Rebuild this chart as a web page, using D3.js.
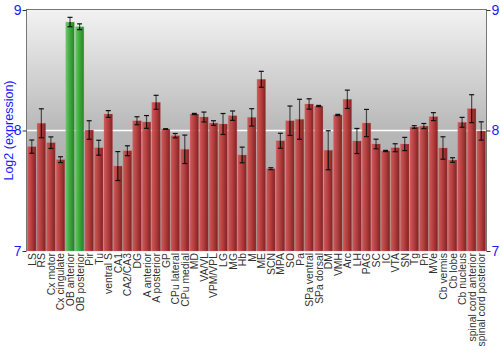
<!DOCTYPE html>
<html><head><meta charset="utf-8">
<script src="https://cdn.jsdelivr.net/npm/d3@7"></script>
<style>body{margin:0;background:#fff}svg{display:block}</style>
</head><body>
<svg id="chart" width="500" height="350"></svg>
<script>
const categories = ["LS","RS","Cx motor","Cx cingulate","OB anterior","OB posterior","Pir","Tu","ventral S","CA1","CA2/CA3","DG","A anterior","A posterior","GP","CPu lateral","CPu medial","MD","VA/VL","VPM/VPL","LG","MG","Hb","M","ME","SCN","MPA","SO","Pa","SPa ventral","SPa dorsal","DM","VMH","Arc","LH","PAG","SC","IC","VTA","SN","Tg","Pn","MVe","Cb vermis","Cb lobe","Cb nucleus","spinal cord anterior","spinal cord posterior"];
const values = [7.866,8.06,7.899,7.758,8.900,8.861,8.004,7.857,8.137,7.705,7.832,8.081,8.071,8.234,8.012,7.957,7.844,8.137,8.112,8.062,8.054,8.123,7.797,8.109,8.425,7.683,7.915,8.081,8.093,8.22,8.203,7.836,8.129,8.259,7.913,8.062,7.888,7.830,7.857,7.888,8.029,8.037,8.115,7.855,7.755,8.068,8.181,7.996];
const errors = [0.055,0.12,0.048,0.024,0.039,0.024,0.077,0.062,0.028,0.12,0.041,0.033,0.053,0.058,0.003,0.018,0.118,0.005,0.041,0.019,0.087,0.039,0.065,0.072,0.066,0.008,0.062,0.122,0.166,0.043,0.005,0.162,0.005,0.076,0.104,0.113,0.04,0.005,0.033,0.055,0.011,0.021,0.033,0.093,0.019,0.041,0.116,0.076];
const highlighted = ["OB anterior","OB posterior"];
const yTicks = [7,8,9];

const svg = d3.select("#chart");
const L = 27, R = 486, T = 10, B = 251;
const x = d3.scaleBand().domain(categories).range([L, R]).paddingInner(0.1).paddingOuter(0.05);
const y = d3.scaleLinear().domain([7, 9]).range([B, T]);

const defs = svg.append("defs");
const bg = defs.append("linearGradient").attr("id","bg").attr("x1",0).attr("y1",0).attr("x2",0).attr("y2",1);
bg.append("stop").attr("offset","0%").attr("stop-color","#f2f2f2");
bg.append("stop").attr("offset","50%").attr("stop-color","#b8b8b8");
bg.append("stop").attr("offset","100%").attr("stop-color","#9a9a9a");
const red = defs.append("linearGradient").attr("id","red").attr("x1",0).attr("y1",0).attr("x2",1).attr("y2",0);
red.append("stop").attr("offset","0%").attr("stop-color","#cf5555");
red.append("stop").attr("offset","45%").attr("stop-color","#b63a3a");
red.append("stop").attr("offset","100%").attr("stop-color","#7e1a1a");
const green = defs.append("linearGradient").attr("id","green").attr("x1",0).attr("y1",0).attr("x2",1).attr("y2",0);
green.append("stop").attr("offset","0%").attr("stop-color","#66c866");
green.append("stop").attr("offset","45%").attr("stop-color","#3aa83a");
green.append("stop").attr("offset","100%").attr("stop-color","#1e7e1e");

svg.append("rect").attr("x",L).attr("y",T).attr("width",R-L).attr("height",B-T).attr("fill","url(#bg)");

svg.append("line").attr("x1",L).attr("x2",R).attr("y1",y(8)).attr("y2",y(8)).attr("stroke","#ffffff").attr("stroke-width",1.5);

const eb = svg.append("g");
categories.forEach((c,i)=>{
  const cx = x(c) + x.bandwidth()/2;
  const y1 = y(values[i]+errors[i]), y2 = y(values[i]-errors[i]);
  eb.append("line").attr("x1",cx).attr("x2",cx).attr("y1",y1).attr("y2",y2).attr("stroke","#222").attr("stroke-width",1.2).attr("opacity",0.75);
});

svg.append("g").selectAll("rect").data(categories).join("rect")
  .attr("x", d=>x(d)).attr("width", x.bandwidth())
  .attr("y", (d,i)=>y(values[i])).attr("height",(d,i)=>B - y(values[i]))
  .attr("fill", d=> highlighted.includes(d) ? "url(#green)" : "url(#red)")
  .attr("fill-opacity",0.95)
  .attr("stroke", d=> highlighted.includes(d) ? "#7fd07f" : "#d67070").attr("stroke-opacity",0.35).attr("stroke-width",0.8);

const ef = svg.append("g");
categories.forEach((c,i)=>{
  const cx = x(c) + x.bandwidth()/2;
  const y1 = y(values[i]+errors[i]), y2 = y(values[i]-errors[i]);
  ef.append("line").attr("x1",cx).attr("x2",cx).attr("y1",y(values[i])).attr("y2",y2).attr("stroke","#111").attr("stroke-width",1.2);
  [y1,y2].forEach(yy=>ef.append("line").attr("x1",cx-2.5).attr("x2",cx+2.5).attr("y1",yy).attr("y2",yy).attr("stroke","#111").attr("stroke-width",1.2));
});

svg.append("line").attr("x1",L).attr("x2",R).attr("y1",T-0.5).attr("y2",T-0.5).attr("stroke","#777");
svg.append("line").attr("x1",L-0.5).attr("x2",L-0.5).attr("y1",T-1).attr("y2",B).attr("stroke","#777");
svg.append("line").attr("x1",R+0.5).attr("x2",R+0.5).attr("y1",T-1).attr("y2",B).attr("stroke","#777");

const yl = d3.axisLeft(y).tickValues(yTicks).tickSize(4).tickFormat(d3.format("d"));
const yr = d3.axisRight(y).tickValues(yTicks).tickSize(4).tickFormat(d3.format("d"));
const gl = svg.append("g").attr("transform",`translate(${L-0.5},0)`).call(yl);
const gr = svg.append("g").attr("transform",`translate(${R+0.5},0)`).call(yr);
[gl,gr].forEach(g=>{
  g.select(".domain").remove();
  g.selectAll(".tick line").attr("stroke","#333");
  g.selectAll(".tick text").attr("fill","#1a1aff").attr("font-family","Liberation Sans, Arial, sans-serif").attr("font-size",14);
});
gl.selectAll(".tick text").attr("x",-5);
gr.selectAll(".tick text").attr("x",5);

svg.append("g").selectAll("text").data(categories).join("text")
  .attr("transform", d=>`translate(${x(d)+x.bandwidth()/2+4},${B+2}) rotate(-90)`)
  .attr("text-anchor","end")
  .attr("font-family","Liberation Sans, Arial, sans-serif").attr("font-size",10.4).attr("fill","#333")
  .text(d=>d);

svg.append("text").attr("transform",`translate(13,${(T+B)/2}) rotate(-90)`)
  .attr("text-anchor","middle").attr("font-family","Liberation Sans, Arial, sans-serif").attr("font-size",12.5)
  .attr("fill","#1a1aff").text("Log2 (expression)");
</script>
</body></html>
